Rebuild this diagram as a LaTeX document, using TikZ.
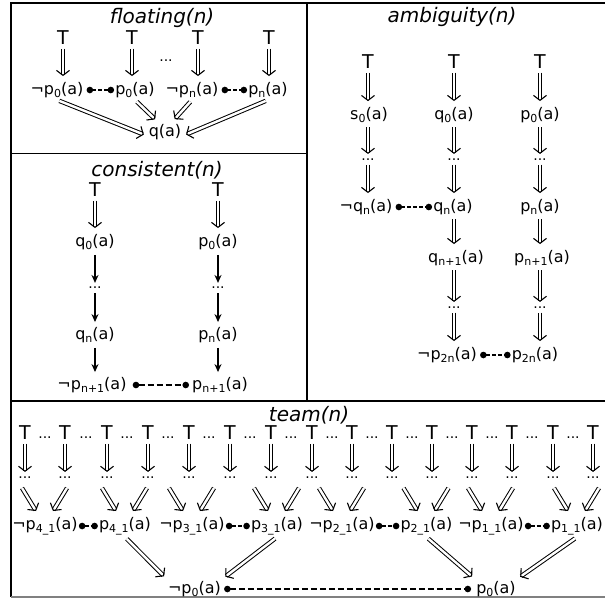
\documentclass[tikz,border=0pt]{standalone}
\usepackage{fontspec}
\setmainfont{DejaVu Sans}
\usetikzlibrary{arrows.meta}

\newcommand{\lsub}[1]{\raisebox{-3pt}{\fontsize{11}{11}\selectfont #1}}

\begin{document}
\begin{tikzpicture}[x=1pt, y=-1pt,
  lit/.style={font=\fontsize{16}{18}\selectfont, inner ysep=2pt, inner xsep=1pt},
  top/.style={font=\fontsize{19}{21}\selectfont, inner sep=1pt},
  title/.style={font=\fontsize{20}{22}\selectfont\itshape},
  gap/.style={font=\fontsize{14}{16}\selectfont, inner sep=1pt},
  impl/.style={double, double distance=2.4pt, line width=1pt, -{Straight Barb[length=5pt, width=13pt, line width=1.1pt]}, shorten >=4pt, shorten <=2.5pt},
  leads/.style={-{Stealth[length=8pt, width=7pt]}, line width=1.2pt, shorten >=3pt, shorten <=3pt},
  clash/.style={{Circle[length=6.5pt]}-{Circle[length=6.5pt]}, dash pattern=on 4pt off 2pt, line width=1.3pt},
  frame/.style={line width=1.5pt}]
  \useasboundingbox (0,0) rectangle (605,598);

  % Rahmen
  \draw[frame] (605,3) -- (11,3) -- (11,597);
  \draw[line width=1.5pt, gray] (11,597) -- (605,597);
  \draw[frame] (11,153.5) -- (307,153.5);
  \draw[frame] (307,3) -- (307,401);
  \draw[frame] (11,401) -- (605,401);

  % floating(n)
  \node[title] (f-title) at (162,18) {floating(n)};
  \node[top] (f-t0) at (63,38) {T};
  \node[top] (f-t1) at (132,38) {T};
  \node[top] (f-t2) at (198,38) {T};
  \node[top] (f-t3) at (269,38) {T};
  \node[gap] (f-gap) at (166,61) {...};
  \node[lit] (f-np0) at (57,90) {¬p\lsub{0}(a)};
  \node[lit] (f-p0) at (135,90) {p\lsub{0}(a)};
  \node[lit] (f-npn) at (192,90) {¬p\lsub{n}(a)};
  \node[lit] (f-pn) at (268,90) {p\lsub{n}(a)};
  \node[lit] (f-q) at (165,132) {q(a)};
  \draw[impl] (f-t0) -- (f-t0 |- f-np0.north);
  \draw[impl] (f-t1) -- (f-t1 |- f-p0.north);
  \draw[impl] (f-t2) -- (f-t2 |- f-npn.north);
  \draw[impl] (f-t3) -- (f-t3 |- f-pn.north);
  \draw[clash] ([xshift=2pt]f-np0.east) -- (f-p0);
  \draw[clash] ([xshift=2pt]f-npn.east) -- (f-pn);
  \draw[impl] (f-np0.south) -- ([yshift=-4pt]f-q.west);
  \draw[impl] (f-p0.south) -- ([xshift=-7pt]f-q.north);
  \draw[impl] (f-npn.south) -- ([xshift=7pt]f-q.north);
  \draw[impl] (f-pn.south) -- ([yshift=-4pt]f-q.east);

  % consistent(n)
  \node[title] (c-title) at (157,170) {consistent(n)};
  \node[top] (c-t0) at (95,190) {T};
  \node[top] (c-t1) at (218,190) {T};
  \node[lit] (c-q0) at (95,242) {q\lsub{0}(a)};
  \node[lit] (c-p0) at (218,242) {p\lsub{0}(a)};
  \node[gap] (c-g0) at (95,288) {...};
  \node[gap] (c-g1) at (218,288) {...};
  \node[lit] (c-qn) at (95,335) {q\lsub{n}(a)};
  \node[lit] (c-pn) at (218,335) {p\lsub{n}(a)};
  \node[lit] (c-npm) at (92,385) {¬p\lsub{n+1}(a)};
  \node[lit] (c-pm) at (220,385) {p\lsub{n+1}(a)};
  \draw[impl] (c-t0) -- (c-q0);
  \draw[impl] (c-t1) -- (c-p0);
  \draw[leads] (c-q0) -- (c-g0);
  \draw[leads] (c-p0) -- (c-g1);
  \draw[leads] (c-g0) -- (c-qn);
  \draw[leads] (c-g1) -- (c-pn);
  \draw[leads] (c-qn) -- (c-qn |- c-npm.north);
  \draw[leads] (c-pn) -- (c-pn |- c-pm.north);
  \draw[clash, dash pattern=on 6pt off 3pt] ([xshift=5pt]c-npm.east) -- ([xshift=-2pt]c-pm.west);

  % ambiguity(n)
  \node[title] (a-title) at (452,17) {ambiguity(n)};
  \node[top] (a-t0) at (368,62) {T};
  \node[top] (a-t1) at (454,62) {T};
  \node[top] (a-t2) at (540,62) {T};
  \node[lit] (a-s0) at (369,115) {s\lsub{0}(a)};
  \node[lit] (a-q0) at (454,115) {q\lsub{0}(a)};
  \node[lit] (a-p0) at (540,115) {p\lsub{0}(a)};
  \node[gap] (a-g0) at (368,160) {...};
  \node[gap] (a-g1) at (454,160) {...};
  \node[gap] (a-g2) at (540,160) {...};
  \node[lit] (a-nqn) at (366,207) {¬q\lsub{n}(a)};
  \node[lit] (a-qn) at (453,207) {q\lsub{n}(a)};
  \node[lit] (a-pn) at (540,207) {p\lsub{n}(a)};
  \node[lit] (a-qm) at (456,258) {q\lsub{n+1}(a)};
  \node[lit] (a-pm) at (542,258) {p\lsub{n+1}(a)};
  \node[gap] (a-g3) at (454,308) {...};
  \node[gap] (a-g4) at (540,308) {...};
  \node[lit] (a-npk) at (447,355) {¬p\lsub{2n}(a)};
  \node[lit] (a-pk) at (535,355) {p\lsub{2n}(a)};
  \draw[impl] (a-t0) -- (a-t0 |- a-s0.north);
  \draw[impl] (a-t1) -- (a-t1 |- a-q0.north);
  \draw[impl] (a-t2) -- (a-t2 |- a-p0.north);
  \draw[impl] (a-g0 |- a-s0.south) -- (a-g0);
  \draw[impl] (a-g1 |- a-q0.south) -- (a-g1);
  \draw[impl] (a-g2 |- a-p0.south) -- (a-g2);
  \draw[impl] (a-g0) -- (a-g0 |- a-nqn.north);
  \draw[impl] (a-g1) -- (a-g1 |- a-qn.north);
  \draw[impl] (a-g2) -- (a-g2 |- a-pn.north);
  \draw[clash] ([xshift=2pt]a-nqn.east) -- (a-qn);
  \draw[impl] (a-g1 |- a-qn.south) -- (a-g1 |- a-qm.north);
  \draw[impl] (a-g2 |- a-pn.south) -- (a-g2 |- a-pm.north);
  \draw[impl] (a-g3 |- a-qm.south) -- (a-g3);
  \draw[impl] (a-g4 |- a-pm.south) -- (a-g4);
  \draw[impl] (a-g3) -- (a-g3 |- a-npk.north);
  \draw[impl] (a-g4) -- (a-g4 |- a-pk.north);
  \draw[clash] ([xshift=2pt]a-npk.east) -- (a-pk);

  % team(n)
  \node[title] (t-title) at (309,415) {team(n)};
  \foreach \x [count=\i] in {25,65,107,148,189,230,271,312,352,392,432,472,512,553,593} {
    \node[top] (t-t\i) at (\x,433) {T};
    \node[gap] (t-g\i) at (\x,478) {...};
    \draw[impl] (t-t\i) -- (t-g\i);
  }
  \foreach \x in {45,86,127,168,209,250,291,332,372,412,452,492,532,573}
    \node[gap] at (\x,438) {...};
  \node[lit] (t-n4) at (45,526) {¬p\lsub{4\_1}(a)};
  \node[lit] (t-p4) at (125,526) {p\lsub{4\_1}(a)};
  \node[lit] (t-n3) at (192,526) {¬p\lsub{3\_1}(a)};
  \node[lit] (t-p3) at (277,526) {p\lsub{3\_1}(a)};
  \node[lit] (t-n2) at (342,526) {¬p\lsub{2\_1}(a)};
  \node[lit] (t-p2) at (426.5,526) {p\lsub{2\_1}(a)};
  \node[lit] (t-n1) at (491,526) {¬p\lsub{1\_1}(a)};
  \node[lit] (t-p1) at (577,526) {p\lsub{1\_1}(a)};
  \foreach \n in {n4,p4,n3,p3,n2,p2,n1,p1} {
    \draw[impl, shorten >=0pt, shorten <=0pt] ([xshift=-23pt,yshift=38pt]t-\n.center) -- ([xshift=-9pt,yshift=15pt]t-\n.center);
    \draw[impl, shorten >=0pt, shorten <=0pt] ([xshift=22pt,yshift=38pt]t-\n.center) -- ([xshift=8pt,yshift=15pt]t-\n.center);
  }
  \draw[clash] (t-n4) -- (t-p4);
  \draw[clash] (t-n3) -- (t-p3);
  \draw[clash] (t-n2) -- (t-p2);
  \draw[clash] (t-n1) -- (t-p1);
  \node[lit] (t-np0) at (194.5,589) {¬p\lsub{0}(a)};
  \node[lit] (t-p0) at (496,589) {p\lsub{0}(a)};
  \draw[impl] (t-p4.south) -- (t-np0.north west);
  \draw[impl] (t-p3.south) -- (t-np0.north east);
  \draw[impl] (t-p2.south) -- (t-p0.north west);
  \draw[impl] (t-p1.south) -- (t-p0.north east);
  \draw[clash, dash pattern=on 6pt off 3pt] ([xshift=2pt]t-np0.east) -- ([xshift=-4pt]t-p0.west);
\end{tikzpicture}
\end{document}
